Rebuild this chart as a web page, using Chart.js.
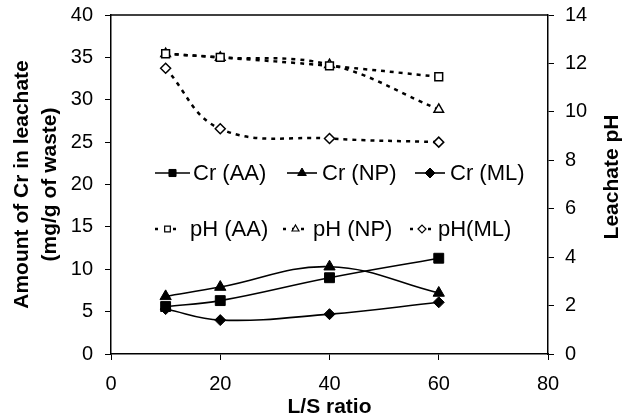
<!DOCTYPE html>
<html>
<head>
<meta charset="utf-8">
<script src="https://cdn.jsdelivr.net/npm/chart.js@4.4.1/dist/chart.umd.min.js"></script>
<style>
  html, body { margin: 0; padding: 0; background: #fff; }
  #wrap { width: 624px; height: 417px; }
</style>
</head>
<body>
<div id="wrap"><canvas id="chart"></canvas></div>
<script>
// L/S ratio values
const lsRatio = [10, 20, 40, 60];

// Cr in leachate (mg/g of waste), left axis
const crAA = [5.6, 6.3, 9.0, 11.3];
const crNP = [6.8, 7.9, 10.3, 7.2];
const crML = [5.3, 4.0, 4.7, 6.1];

// leachate pH, right axis
const phAA = [12.4, 12.25, 11.9, 11.45];
const phNP = [12.4, 12.25, 11.95, 10.1];
const phML = [11.8, 9.3, 8.9, 8.75];

const xTicks = [0, 20, 40, 60, 80];
const crTicks = [0, 5, 10, 15, 20, 25, 30, 35, 40];
const phTicks = [0, 2, 4, 6, 8, 10, 12, 14];

const FONT = "Arial, 'Liberation Sans', sans-serif";

function pts(ys) {
  return lsRatio.map((x, i) => ({ x: x, y: ys[i] }));
}

function crSet(label, ys, style, radius) {
  return {
    label: label,
    data: pts(ys),
    yAxisID: "y",
    borderColor: "#000",
    borderWidth: 1.6,
    backgroundColor: "#000",
    pointStyle: style,
    pointRadius: radius,
    pointBackgroundColor: "#000",
    pointBorderColor: "#000",
    pointBorderWidth: 1,
    tension: 0.4,
    legendRow: 0,
  };
}

function phSet(label, ys, style, radius) {
  return {
    label: label,
    data: pts(ys),
    yAxisID: "y1",
    borderColor: "#000",
    borderWidth: 2.5,
    borderDash: [4, 5],
    backgroundColor: "#fff",
    pointStyle: style,
    pointRadius: radius,
    pointBackgroundColor: "#fff",
    pointBorderColor: "#000",
    pointBorderWidth: 1.5,
    tension: 0.4,
    legendRow: 1,
  };
}

// legend drawn inside the plot: two rows of three entries
const legendSlots = [
  [{ x0: 155, x1: 190, tx: 193 }, { x0: 287, x1: 317, tx: 322 }, { x0: 415, x1: 445, tx: 450 }],
  [{ x0: 155, x1: 180, tx: 190 }, { x0: 283, x1: 308, tx: 313 }, { x0: 410, x1: 434, tx: 438 }],
];
const legendRowsY = [173, 229];

const insideLegend = {
  id: "insideLegend",
  afterDraw(chart) {
    const ctx = chart.ctx;
    const area = chart.chartArea;
    const counts = [0, 0];
    ctx.save();

    // top frame line
    ctx.strokeStyle = "#000";
    ctx.lineWidth = 1.5;
    ctx.beginPath();
    ctx.moveTo(area.left, area.top);
    ctx.lineTo(area.right, area.top);
    ctx.stroke();

    chart.data.datasets.forEach((ds) => {
      const row = ds.legendRow;
      const slot = legendSlots[row][counts[row]++];
      const y = legendRowsY[row];
      ctx.strokeStyle = ds.borderColor;
      ctx.lineWidth = row === 0 ? 1.6 : 2.5;
      ctx.setLineDash(row === 0 ? [] : [3, 6]);
      ctx.beginPath();
      ctx.moveTo(slot.x0, y);
      ctx.lineTo(slot.x1, y);
      ctx.stroke();
      ctx.setLineDash([]);
      ctx.fillStyle = ds.pointBackgroundColor;
      ctx.strokeStyle = ds.pointBorderColor;
      ctx.lineWidth = row === 0 ? 1 : 1.2;
      Chart.helpers.drawPoint(ctx, {
        pointStyle: ds.pointStyle,
        radius: row === 0 ? 5 : 4,
        borderWidth: ctx.lineWidth,
        rotation: 0,
      }, (slot.x0 + slot.x1) / 2, y);
      ctx.fillStyle = "#000";
      ctx.font = "22px " + FONT;
      ctx.textBaseline = "middle";
      ctx.textAlign = "left";
      ctx.fillText(ds.label, slot.tx, y + 1);
    });

    // right axis title, reading bottom to top like the left one
    ctx.translate(612, 177);
    ctx.rotate(-Math.PI / 2);
    ctx.font = "bold 21px " + FONT;
    ctx.textAlign = "center";
    ctx.textBaseline = "middle";
    ctx.fillStyle = "#000";
    ctx.fillText("Leachate pH", 0, 0);
    ctx.restore();
  },
};

function fitY(width) {
  return (s) => {
    s.width = width;
    s.paddingTop = 0;
    s.paddingBottom = 0;
  };
}

new Chart(document.getElementById("chart"), {
  type: "line",
  data: {
    datasets: [
      crSet("Cr (AA)", crAA, "rect", 7),
      crSet("Cr (NP)", crNP, "triangle", 6.5),
      crSet("Cr (ML)", crML, "rectRot", 5.5),
      phSet("pH (AA)", phAA, "rect", 5.5),
      phSet("pH (NP)", phNP, "triangle", 5.5),
      phSet("pH(ML)", phML, "rectRot", 5),
    ],
  },
  options: {
    responsive: true,
    maintainAspectRatio: false,
    animation: false,
    layout: { padding: { top: 15, right: 0, left: 0, bottom: 0 } },
    plugins: {
      legend: { display: false },
      tooltip: { enabled: false },
    },
    scales: {
      x: {
        type: "linear",
        min: 0,
        max: 80,
        afterBuildTicks: (s) => { s.ticks = xTicks.map((v) => ({ value: v })); },
        afterFit: (s) => { s.height = 63; },
        grid: { drawOnChartArea: false, tickLength: 6, color: "#000", lineWidth: 1 },
        border: { color: "#000", width: 1.5 },
        ticks: { color: "#000", font: { family: FONT, size: 20 }, padding: 12 },
        title: {
          display: true,
          text: "L/S ratio",
          color: "#000",
          font: { family: FONT, size: 21, weight: "bold" },
          padding: { top: 0, bottom: -3 },
        },
      },
      y: {
        position: "left",
        min: 0,
        max: 40,
        afterBuildTicks: (s) => { s.ticks = crTicks.map((v) => ({ value: v })); },
        afterFit: fitY(111),
        grid: { drawOnChartArea: false, tickLength: 6, color: "#000", lineWidth: 1 },
        border: { color: "#000", width: 1.5 },
        ticks: { color: "#000", font: { family: FONT, size: 20 }, padding: 12 },
        title: {
          display: true,
          text: ["Amount of Cr in leachate", "(mg/g of waste)"],
          color: "#000",
          font: { family: FONT, size: 21, weight: "bold", lineHeight: 1.3 },
          padding: { top: 9, bottom: 0 },
        },
      },
      y1: {
        position: "right",
        min: 0,
        max: 14,
        afterBuildTicks: (s) => { s.ticks = phTicks.map((v) => ({ value: v })); },
        afterFit: fitY(76),
        grid: { drawOnChartArea: false, tickLength: 6, color: "#000", lineWidth: 1 },
        border: { color: "#000", width: 1.5 },
        ticks: { color: "#000", font: { family: FONT, size: 20 }, padding: 11 },
      },
    },
  },
  plugins: [insideLegend],
});
</script>
</body>
</html>
